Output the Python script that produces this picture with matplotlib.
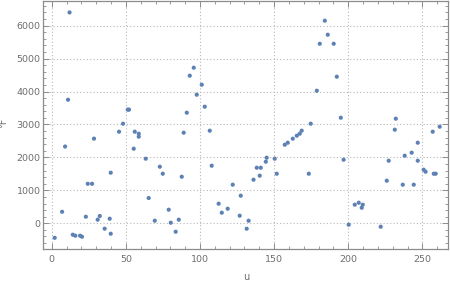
import matplotlib
matplotlib.use("Agg")
import matplotlib.pyplot as plt
from matplotlib.ticker import MultipleLocator

u = [2, 7, 9, 11, 12, 14.2, 15.9, 19.1, 20.4, 23, 24.3, 27.2, 28.5, 31, 32.4, 35.7,
     39.1, 39.8, 39.8, 45.4, 48.1, 51.3, 52.1, 55.3, 56, 58.7, 58.7, 63.4, 65.4,
     69.5, 72.9, 74.9, 78.9, 80.3, 83.6, 85.7, 87.7, 89.0, 91.1, 93.1, 95.8, 97.8,
     101.2, 103.2, 106.6, 107.9, 112.6, 114.7, 118.7, 122.1, 126.8, 127.5, 131.5,
     132.8, 136.1, 138.3, 140.3, 141.0, 144.4, 145.0, 150.4, 151.8, 157.2, 159.2,
     162.6, 165.3, 167.3, 168.6, 173.4, 174.7, 178.8, 180.8, 184.2, 186.2, 190.2,
     192.3, 195.0, 196.9, 200.3, 204.4, 207.1, 209.1, 209.8, 221.9, 226.0, 227.3,
     231.4, 232.1, 236.8, 238.1, 242.8, 244.2, 246.9, 246.9, 250.9, 252.2, 257.0,
     257.7, 259.0, 261.7]
temp_f = [-440, 350, 2330, 3750, 6400, -346, -376, -376, -407, 200, 1200, 1200, 2570,
          110, 222, -163, 140, -316, 1536, 2780, 3023, 3450, 3450, 2264, 2780, 2720,
          2630, 1961, 768, 79, 1718, 1505, 413, 18, -255, 110, 1414, 2750, 3357, 4480,
          4722, 3903, 4206, 3539, 2811, 1748, 595, 322, 443, 1172, 231, 838, -164, 79,
          1323, 1687, 1445, 1687, 1870, 1991, 1961, 1505, 2385, 2446, 2568, 2659, 2720,
          2811, 1505, 3023, 4024, 5450, 6149, 5724, 5450, 4449, 3205, 1930, -42, 565,
          625, 473, 565, -103, 1293, 1900, 2841, 3175, 1172, 2052, 2143, 1172, 2446,
          1900, 1627, 1566, 2780, 1505, 1505, 2932]

x_ticks = [0, 50, 100, 150, 200, 250]
y_ticks = [0, 1000, 2000, 3000, 4000, 5000, 6000]

fig = plt.figure(figsize=(4.5, 2.86), dpi=100)
ax = fig.add_axes([0.0962, 0.1283, 0.9, 0.8682])

frame_col = "#8c8c8c"
label_col = "#6e6e6e"
point_col = (0.368417, 0.506779, 0.709798)

ax.scatter(u, temp_f, s=9, color=point_col, edgecolors="none", zorder=3)

ax.set_xlim(-5.7, 267.5)
ax.set_ylim(-789, 6747)
ax.set_xticks(x_ticks)
ax.set_yticks(y_ticks)
ax.xaxis.set_minor_locator(MultipleLocator(10))
ax.yaxis.set_minor_locator(MultipleLocator(200))

ax.grid(True, which="major", color="#b8b8b8", linestyle=(0, (1, 2)), linewidth=0.8)

for s in ax.spines.values():
    s.set_color(frame_col)
    s.set_linewidth(0.9)

ax.tick_params(which="both", direction="in", top=True, right=True,
               colors=frame_col, labelcolor=label_col, labelsize=6.8)
ax.tick_params(which="major", length=4, width=0.7)
ax.tick_params(which="minor", length=2, width=0.6)
ax.tick_params(axis="x", pad=4)
ax.tick_params(axis="y", pad=2)

ax.set_xlabel("u", color=label_col, fontsize=7, labelpad=6)
ax.set_ylabel("°F", color=label_col, fontsize=7)
ax.yaxis.set_label_coords(-0.086, 0.51)

fig.savefig("out.png", dpi=100)
